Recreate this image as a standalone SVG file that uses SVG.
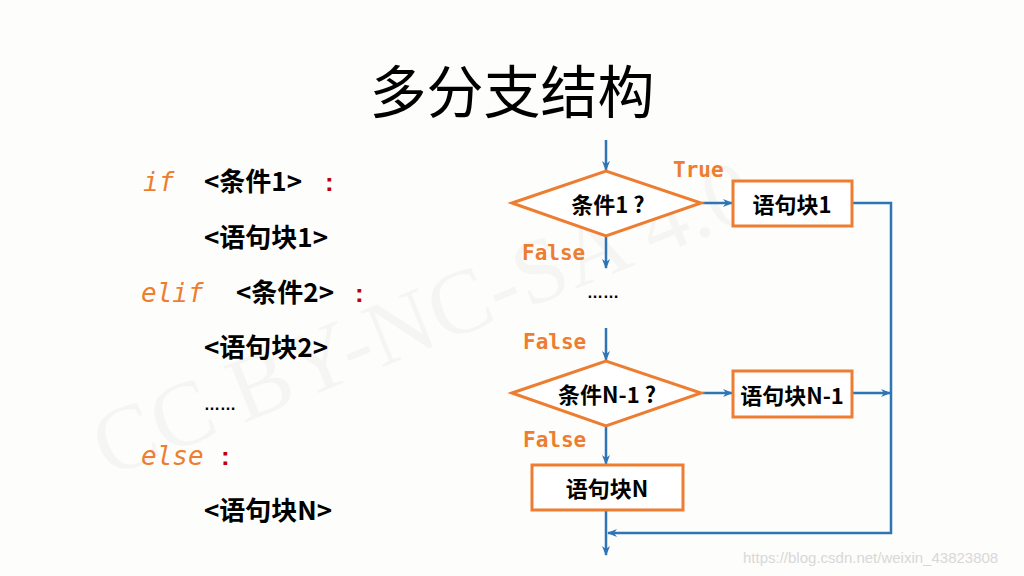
<svg xmlns="http://www.w3.org/2000/svg" width="1024" height="576" viewBox="0 0 1024 576">
<defs>
<marker id="arr" markerUnits="userSpaceOnUse" markerWidth="10" markerHeight="10" viewBox="0 0 10 10" refX="9" refY="5" orient="auto">
<path d="M0,1 L10,5 L0,9 L3,5 Z" fill="#2E75B6"/>
</marker>
<style>
.bg{fill:#FDFDFB}
.title{font-family:"Noto Sans CJK SC","Noto Sans",sans-serif;font-size:57px;fill:#000}
.code{font-family:"Noto Sans CJK SC",sans-serif;font-weight:bold;font-size:26px;fill:#000}
.kw{font-family:"DejaVu Sans Mono","Liberation Mono",monospace;font-style:italic;font-size:26px;fill:#ED7D31}
.colon{font-family:"Liberation Sans",sans-serif;font-weight:bold;font-size:26px;fill:#C00000}
.dots{font-family:"Liberation Sans",sans-serif;font-weight:bold;font-size:16px;fill:#000}
.lbl{font-family:"DejaVu Sans Mono","Liberation Mono",monospace;font-weight:bold;font-size:21px;fill:#ED7D31}
.ntext{font-family:"Noto Sans CJK SC",sans-serif;font-weight:bold;font-size:22px;fill:#000;text-anchor:middle;dominant-baseline:central}
.shape{fill:#FFFFFF;stroke:#ED7D31;stroke-width:3}
.conn{fill:none;stroke:#2E75B6;stroke-width:2.5}
.wm{font-family:"Liberation Serif",serif;font-size:92px;fill:#000;fill-opacity:0.03}
.url{font-family:"Liberation Sans",sans-serif;font-size:15px;fill:#D8D8D8}
</style>
</defs>
<rect class="bg" x="0" y="0" width="1024" height="576"/>
<text class="wm" transform="translate(108,478) rotate(-22)">CC BY-NC-SA 4.0</text>
<text class="title" x="512" y="113" text-anchor="middle">多分支结构</text>

<g id="code">
<text class="kw" x="143" y="191">if</text>
<text class="code" x="204" y="191">&lt;条件1&gt;</text>
<text class="colon" x="325" y="191">:</text>
<text class="code" x="204" y="247">&lt;语句块1&gt;</text>
<text class="kw" x="141" y="302">elif</text>
<text class="code" x="236" y="302">&lt;条件2&gt;</text>
<text class="colon" x="355" y="302">:</text>
<text class="code" x="204" y="357">&lt;语句块2&gt;</text>
<text class="dots" x="204" y="410">……</text>
<text class="kw" x="141" y="465">else</text>
<text class="colon" x="221" y="465">:</text>
<text class="code" x="204" y="520">&lt;语句块N&gt;</text>
</g>

<g id="connectors">
<line class="conn" x1="606" y1="140" x2="606" y2="170" marker-end="url(#arr)"/>
<line class="conn" x1="606" y1="236" x2="606" y2="268" marker-end="url(#arr)"/>
<line class="conn" x1="606" y1="328" x2="606" y2="360" marker-end="url(#arr)"/>
<line class="conn" x1="606" y1="426" x2="606" y2="464" marker-end="url(#arr)"/>
<line class="conn" x1="606" y1="510" x2="606" y2="555" marker-end="url(#arr)"/>
<line class="conn" x1="702" y1="203" x2="732" y2="203" marker-end="url(#arr)"/>
<line class="conn" x1="702" y1="393" x2="732" y2="393" marker-end="url(#arr)"/>
<polyline class="conn" points="852,203 891,203 891,533 608,533" marker-end="url(#arr)"/>
<line class="conn" x1="852" y1="393" x2="890" y2="393" marker-end="url(#arr)"/>
<text class="lbl" x="673" y="177">True</text>
<text class="lbl" x="522" y="260">False</text>
<text class="dots" x="587" y="298">……</text>
<text class="lbl" x="523" y="349">False</text>
<text class="lbl" x="523" y="447">False</text>
</g>

<g id="cond1">
<polygon class="shape" points="512,203 606,171 701,203 606,236"/>
<text class="ntext" x="608" y="203">条件1 ?</text>
</g>
<g id="block1">
<rect class="shape" x="733" y="181" width="119" height="45"/>
<text class="ntext" x="792" y="203">语句块1</text>
</g>
<g id="condN1">
<polygon class="shape" points="512,393 606,361 701,393 606,426"/>
<text class="ntext" x="607" y="393">条件N-1 ?</text>
</g>
<g id="blockN1">
<rect class="shape" x="733" y="371" width="119" height="46"/>
<text class="ntext" x="792" y="394">语句块N-1</text>
</g>
<g id="blockN">
<rect class="shape" x="532" y="465" width="151" height="45"/>
<text class="ntext" x="607" y="487">语句块N</text>
</g>

<text class="url" x="743" y="563">https://blog.csdn.net/weixin_43823808</text>
</svg>
